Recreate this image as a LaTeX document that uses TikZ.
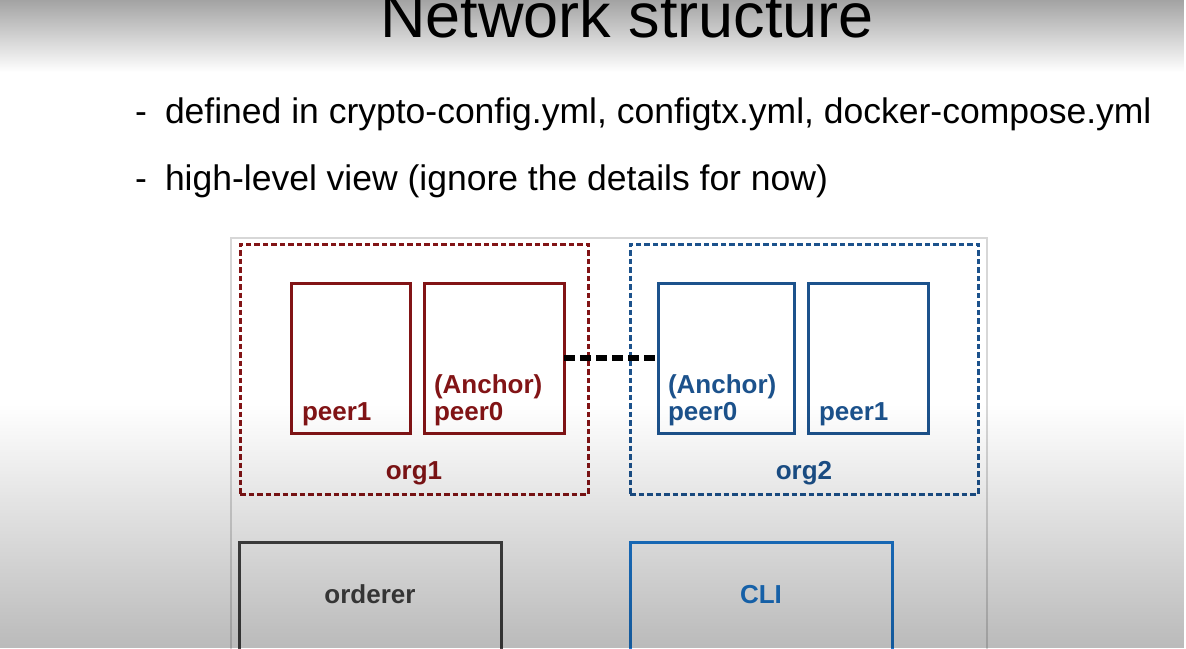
\documentclass[tikz,border=0pt]{standalone}
\usepackage{fontspec}
\setmainfont{Liberation Sans}
\usetikzlibrary{fadings,calc}
% darkening bands along the top and bottom edges of the slide
\tikzfading[name=darkdown, top color=transparent!100, bottom color=transparent!0]
\tikzfading[name=darkup, top color=transparent!0, bottom color=transparent!100]
\definecolor{orgred}{RGB}{130,20,22}
\definecolor{orgblue}{RGB}{28,82,140}
\definecolor{cliblue}{RGB}{28,122,212}
\definecolor{ordgray}{RGB}{68,68,68}
\definecolor{framegray}{RGB}{215,215,215}
\begin{document}
\begin{tikzpicture}[x=1pt,y=-1pt,
  txt/.style={inner sep=0pt, outer sep=0pt},
  box/.style={draw, line width=3pt, inner sep=0pt, outer sep=0pt, fill=white},
  orgbox/.style={draw, line width=3pt, dash pattern=on 5.5pt off 3pt, inner sep=0pt, outer sep=0pt},
  peerlbl/.style={txt, anchor=base west, font=\bfseries\fontsize{26}{26}\selectfont},
  boxlbl/.style={txt, anchor=base, font=\bfseries\fontsize{26}{26}\selectfont},
  bullet/.style={txt, anchor=base west, font=\fontsize{35.5}{36}\selectfont},
  gossip/.style={draw=black, line width=6pt, dash pattern=on 11pt off 5pt}
]
\useasboundingbox (0,0) rectangle (1186,648);
\fill[white] (0,0) rectangle (1186,648);

% title and bullet points
\node[txt, anchor=base, font=\fontsize{63}{63}\selectfont] (title) at (627,37) {Network structure};
\node[bullet] (d1) at (135,123) {-};
\node[bullet] (b1) at (165,123) {defined in crypto-config.yml, configtx.yml, docker-compose.yml};
\node[bullet] (d2) at (135,190) {-};
\node[bullet] (b2) at (165,190) {high-level view (ignore the details for now)};

% diagram frame
\node[draw=framegray, line width=1.5pt, fill=white, minimum width=756pt, minimum height=462pt, inner sep=0pt] (frame) at (609,469) {};

% organisation 1
\node[orgbox, draw=orgred, minimum width=348pt, minimum height=250pt] (org1) at (414,369) {};
\node[box, draw=orgred, minimum width=119pt, minimum height=150pt] (p1a) at (350.5,358) {};
\node[box, draw=orgred, minimum width=140pt, minimum height=150pt] (p0a) at (494,358) {};
\node[peerlbl, text=orgred] (p1at) at ($(p1a.south west)+(11,-13)$) {peer1};
\node[peerlbl, text=orgred] (p0at) at ($(p0a.south west)+(10,-13)$) {peer0};
\node[peerlbl, text=orgred] (p0aa) at ($(p0a.south west)+(10,-40)$) {(Anchor)};
\node[boxlbl, text=orgred] (org1t) at ($(org1.south)+(0,-15)$) {org1};

% organisation 2
\node[orgbox, draw=orgblue, minimum width=348pt, minimum height=250pt] (org2) at (804,369) {};
\node[box, draw=orgblue, minimum width=136pt, minimum height=150pt] (p0b) at (726,358) {};
\node[box, draw=orgblue, minimum width=120pt, minimum height=150pt] (p1b) at (868,358) {};
\node[peerlbl, text=orgblue] (p0bt) at ($(p0b.south west)+(10,-13)$) {peer0};
\node[peerlbl, text=orgblue] (p0ba) at ($(p0b.south west)+(10,-40)$) {(Anchor)};
\node[peerlbl, text=orgblue] (p1bt) at ($(p1b.south west)+(11,-13)$) {peer1};
\node[boxlbl, text=orgblue] (org2t) at ($(org2.south)+(0,-15)$) {org2};

% anchor peers linked across organisations
\draw[gossip] (p0a.east) -- (p0b.west);

% orderer and CLI
\node[box, draw=ordgray, minimum width=262pt, minimum height=130pt] (orderer) at (370,607) {};
\node[boxlbl, text=ordgray] (ordt) at ($(orderer.north)+(0,61)$) {orderer};
\node[box, draw=cliblue, minimum width=262pt, minimum height=130pt] (cli) at (761,607) {};
\node[boxlbl, text=cliblue] (clit) at ($(cli.north)+(0,61)$) {CLI};

% edge darkening
\fill[black, path fading=darkup, fill opacity=0.36] (0,0) rectangle (1186,72);
\fill[black, path fading=darkdown, fill opacity=0.27] (0,405) rectangle (1186,648);
\end{tikzpicture}
\end{document}
